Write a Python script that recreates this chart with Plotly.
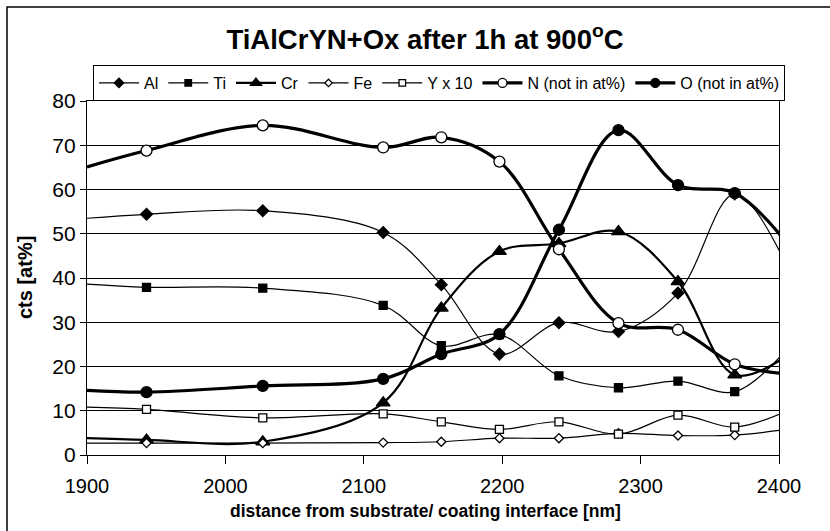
import plotly.graph_objects as go

# Depth positions (nm). First and last entries sit at the plot edges and carry no marker.
depth = [1900, 1943, 2027, 2114, 2156, 2198, 2241, 2284, 2327, 2368, 2406]

al = [53.5, 54.4, 55.2, 50.3, 38.5, 22.8, 29.9, 27.9, 36.6, 59.0, 42.5]
ti = [38.6, 37.9, 37.7, 33.8, 24.7, 27.2, 17.9, 15.2, 16.7, 14.3, 24.0]
cr = [3.8, 3.4, 3.0, 11.8, 33.2, 46.0, 47.8, 50.5, 39.2, 18.1, 22.5]
fe = [2.7, 2.7, 2.7, 2.8, 3.0, 3.8, 3.8, 4.9, 4.4, 4.5, 5.8]
y_x10 = [10.8, 10.3, 8.4, 9.3, 7.5, 5.8, 7.5, 4.7, 9.0, 6.3, 10.0]
n_cts = [65.1, 68.8, 74.5, 69.5, 71.8, 66.3, 46.5, 29.8, 28.3, 20.5, 18.3]
o_cts = [14.6, 14.2, 15.6, 17.2, 22.8, 27.3, 50.9, 73.4, 61.0, 59.2, 47.8]

x_ticks = [1900, 2000, 2100, 2200, 2300, 2400]
y_ticks = [0, 10, 20, 30, 40, 50, 60, 70, 80]

FONT = "Liberation Sans, Arial, sans-serif"


def sizes(s):
    out = [s] * len(depth)
    out[0] = 0
    out[-1] = 0
    return out


series = [
    # name, values, line width, symbol, size, fill
    ("Al", al, 1.2, "diamond", 9, "#000000"),
    ("Ti", ti, 1.2, "square", 8, "#000000"),
    ("Cr", cr, 2.2, "triangle-up", 12, "#000000"),
    ("Fe", fe, 1.2, "diamond", 7, "#ffffff"),
    ("Y x 10", y_x10, 1.2, "square", 8, "#ffffff"),
    ("N (not in at%)", n_cts, 3.2, "circle", 11, "#ffffff"),
    ("O (not in at%)", o_cts, 3.2, "circle", 11, "#000000"),
]

fig = go.Figure()
for name, vals, lw, sym, sz, fill in series:
    fig.add_trace(go.Scatter(
        x=depth, y=vals, name=name, mode="lines+markers",
        line=dict(color="#000000", width=lw, shape="spline", smoothing=1.0),
        marker=dict(symbol=sym, size=sizes(sz), color=fill, opacity=1,
                    line=dict(color="#000000", width=1.3)),
        cliponaxis=True,
    ))

fig.update_layout(
    width=830, height=531,
    margin=dict(l=87, r=51, t=101, b=76, autoexpand=False),
    paper_bgcolor="white", plot_bgcolor="white",
    font=dict(family=FONT, color="black"),
    showlegend=True,
    title=dict(text="<b>TiAlCrYN+Ox after 1h at 900<sup>o</sup>C</b>",
               x=425 / 830, xref="container", xanchor="center",
               y=1 - 39 / 531, yref="container", yanchor="middle",
               font=dict(size=27.5, family=FONT, color="black")),
    legend=dict(orientation="h", x=6 / 692, xanchor="left", y=1.0, yanchor="bottom",
                bordercolor="black", borderwidth=1, bgcolor="white",
                font=dict(size=16, family=FONT, color="black"),
                itemwidth=40, tracegroupgap=0),
    xaxis=dict(range=[1900, 2400], tickvals=x_ticks, ticktext=[str(v) for v in x_ticks],
               showgrid=False, zeroline=False, showline=True, linecolor="black",
               linewidth=1.3, mirror=True, ticks="outside", ticklen=8, tickwidth=1.3,
               tickcolor="black", ticklabelstandoff=5,
               tickfont=dict(size=20, family=FONT), automargin=False),
    yaxis=dict(range=[0, 80], tickvals=y_ticks, showgrid=True, gridcolor="black",
               gridwidth=1, zeroline=False, showline=True, linecolor="black",
               linewidth=1.3, mirror=True, ticks="outside", ticklen=6, tickwidth=1.3,
               tickcolor="black", tickfont=dict(size=21, family=FONT), automargin=False),
)

# axis titles
fig.add_annotation(text="<b>distance from substrate/ coating interface [nm]</b>",
                   xref="paper", yref="paper", x=(425 - 87) / 692, y=(455 - 511) / 354,
                   xanchor="center", yanchor="middle", showarrow=False,
                   font=dict(size=17.5, family=FONT, color="black"))
fig.add_annotation(text="<b>cts [at%]</b>", textangle=-90,
                   xref="paper", yref="paper", x=(25 - 87) / 692, y=0.5,
                   xanchor="center", yanchor="middle", showarrow=False,
                   font=dict(size=20, family=FONT, color="black"))

# chart border
fig.add_shape(type="rect", xref="paper", yref="paper",
              x0=(7 - 87) / 692, x1=(840 - 87) / 692,
              y0=(455 - 545) / 354, y1=(455 - 7) / 354,
              line=dict(color="black", width=1.5), fillcolor="rgba(0,0,0,0)", layer="below")

fig.write_html("out.html")
